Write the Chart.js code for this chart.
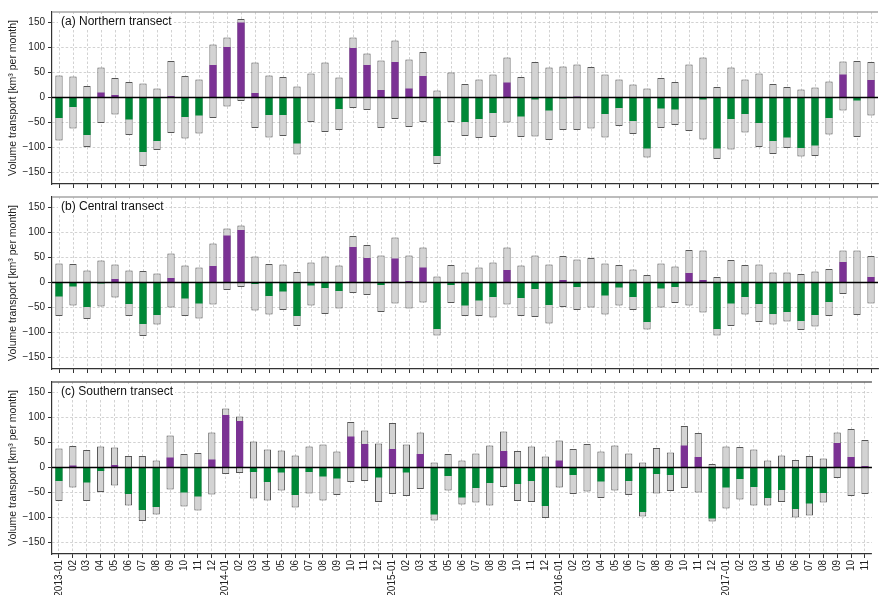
<!DOCTYPE html>
<html>
<head>
<meta charset="utf-8">
<script src="https://cdn.jsdelivr.net/npm/chart.js@4.4.1/dist/chart.umd.min.js"></script>
<style>
  html, body { margin: 0; padding: 0; background: #fff; }
  #wrap { position: relative; width: 879px; height: 595px; }
  #wrap canvas { position: absolute; left: 0; top: 0; }
</style>
</head>
<body>
<div id="wrap">
  <canvas id="panelA" width="879" height="595"></canvas>
  <canvas id="panelB" width="879" height="595"></canvas>
  <canvas id="panelC" width="879" height="595"></canvas>
</div>
<script>
// Monthly tick labels, 2013-01 to 2017-11
const monthLabels = [
  '2013-01','02','03','04','05','06','07','08','09','10','11','12',
  '2014-01','02','03','04','05','06','07','08','09','10','11','12',
  '2015-01','02','03','04','05','06','07','08','09','10','11','12',
  '2016-01','02','03','04','05','06','07','08','09','10','11','12',
  '2017-01','02','03','04','05','06','07','08','09','10','11'
];
const yTickValues = [-150, -100, -50, 0, 50, 100, 150];

// (a) Northern transect: positive / negative transport and net (km3 per month)
const northPos = [44,42,23,60,39,31,28,18,73,43,36,106, 120,157,70,44,41,22,48,70,40,120,88,74,
                  114,76,91,14,50,27,36,46,80,41,71,60, 62,66,61,46,36,26,18,39,31,66,80,21,
                  60,36,48,27,21,16,20,32,72,73,71];
const northNeg = [-86,-62,-99,-51,-34,-75,-137,-105,-71,-82,-72,-41, -18,-7,-61,-80,-77,-114,-49,-69,-65,-21,-25,-61,
                  -43,-59,-49,-133,-49,-77,-81,-79,-50,-79,-78,-85, -65,-65,-62,-80,-57,-73,-120,-61,-55,-67,-84,-123,
                  -104,-70,-99,-113,-101,-118,-117,-74,-26,-79,-36];
const northNet = [-41,-19,-75,10,5,-44,-109,-87,3,-39,-36,65, 101,150,9,-35,-35,-92,-1,1,-23,99,65,15,
                  71,18,43,-117,1,-49,-43,-31,30,-38,-4,-26, -2,2,0,-33,-21,-47,-102,-22,-24,0,-4,-102,
                  -43,-33,-51,-87,-80,-101,-96,-41,46,-6,35];

// (b) Central transect
const centralPos = [38,37,24,44,36,24,23,18,58,34,30,78, 108,114,52,37,36,21,40,52,34,93,75,54,
                    90,54,70,12,35,20,30,40,70,34,54,36, 53,46,49,38,35,26,15,38,32,65,64,11,
                    45,35,36,20,20,17,22,27,64,64,53];
const centralNeg = [-67,-46,-73,-48,-30,-67,-107,-84,-50,-67,-72,-44, -15,-9,-56,-64,-55,-87,-46,-63,-52,-21,-25,-59,
                    -42,-52,-40,-106,-41,-67,-67,-70,-44,-67,-69,-82, -49,-55,-50,-64,-46,-55,-94,-50,-41,-46,-60,-106,
                    -87,-64,-79,-84,-78,-95,-88,-67,-23,-65,-42];
const centralNet = [-28,-8,-49,-2,7,-43,-83,-65,9,-32,-42,33, 94,105,-3,-27,-18,-67,-6,-11,-17,71,49,-5,
                    48,3,30,-93,-5,-46,-36,-29,25,-31,-13,-45, 5,-9,0,-26,-10,-29,-79,-12,-9,19,5,-93,
                    -42,-29,-43,-63,-59,-77,-65,-39,41,0,11];

// (c) Southern transect
const southPos = [38,43,35,42,40,23,23,14,64,27,29,70, 118,102,52,36,34,24,42,46,32,91,74,48,
                  89,46,70,10,27,14,28,44,72,33,42,22, 54,37,47,32,44,28,10,39,30,83,69,7,
                  42,41,36,14,24,15,23,18,70,77,55];
const southNeg = [-67,-40,-67,-49,-36,-76,-107,-94,-44,-78,-86,-54, -13,-11,-62,-66,-46,-80,-52,-66,-55,-29,-27,-69,
                  -53,-57,-43,-106,-46,-74,-70,-76,-39,-67,-69,-101, -40,-53,-48,-61,-46,-55,-98,-52,-47,-41,-50,-108,
                  -82,-64,-76,-76,-69,-100,-96,-70,-21,-57,-53];
const southNet = [-27,4,-30,-7,5,-53,-85,-79,20,-50,-58,16, 105,93,-9,-29,-10,-55,-9,-18,-22,62,47,-20,
                  37,-10,27,-94,-17,-60,-41,-31,33,-33,-27,-77, 14,-15,0,-28,0,-27,-89,-13,-15,44,21,-102,
                  -40,-23,-39,-61,-45,-83,-72,-51,49,21,3];

const FONT = '"Liberation Sans", Arial, Helvetica, sans-serif';
const NET_POS = '#7b3294';
const NET_NEG = '#008837';
const RANGE_FILL = '#d3d3d3';
const RANGE_EDGE = '#555555';
const GRID = '#c6c6c6';
const AXIS = '#333333';

// Zero line, top frame line and the panel caption
const panelDecor = {
  id: 'panelDecor',
  afterDatasetsDraw(chart, args, opts) {
    const { ctx, chartArea: a, scales: { y } } = chart;
    const y0 = y.getPixelForValue(0);
    ctx.save();
    ctx.strokeStyle = '#000';
    ctx.lineWidth = 1.6;
    ctx.beginPath();
    ctx.moveTo(a.left, y0);
    ctx.lineTo(a.right, y0);
    ctx.stroke();

    ctx.strokeStyle = opts.frameColor;
    ctx.lineWidth = 1.5;
    ctx.beginPath();
    ctx.moveTo(a.left, a.top);
    ctx.lineTo(a.right, a.top);
    ctx.stroke();

    ctx.font = '12px ' + FONT;
    const w = ctx.measureText(opts.caption).width;
    ctx.fillStyle = '#fff';
    ctx.fillRect(a.left + 6, a.top + 2, w + 5, 15);
    ctx.fillStyle = '#111';
    ctx.textBaseline = 'middle';
    ctx.textAlign = 'left';
    ctx.fillText(opts.caption, a.left + 9, a.top + 9.5);
    ctx.restore();
  }
};

function drawPanel(id, caption, pos, neg, net, layout) {
  const ranges = pos.map((p, i) => [neg[i], p]);
  new Chart(document.getElementById(id), {
    type: 'bar',
    data: {
      labels: monthLabels,
      datasets: [
        {
          label: 'net',
          data: net,
          backgroundColor: net.map(v => (v >= 0 ? NET_POS : NET_NEG)),
          borderWidth: 0,
          grouped: false,
          order: 0,
          barPercentage: 0.52,
          categoryPercentage: 1
        },
        {
          label: 'range',
          data: ranges,
          backgroundColor: RANGE_FILL,
          borderColor: RANGE_EDGE,
          borderWidth: 1,
          borderSkipped: false,
          grouped: false,
          order: 1,
          barPercentage: 0.52,
          categoryPercentage: 1
        }
      ]
    },
    options: {
      responsive: false,
      animation: false,
      events: [],
      layout: { padding: { top: layout.top, bottom: layout.bottom, left: 0, right: 1 } },
      plugins: {
        legend: { display: false },
        tooltip: { enabled: false },
        panelDecor: { caption: caption, frameColor: layout.frame }
      },
      scales: {
        x: {
          type: 'category',
          offset: true,
          grid: { offset: false, color: GRID, lineWidth: 0.8, tickColor: AXIS, tickLength: 4, tickWidth: 1, drawTicks: true },
          border: { color: AXIS, width: 1.2, dash: [2.5, 2] },
          ticks: {
            display: layout.showLabels,
            autoSkip: false,
            minRotation: 90,
            maxRotation: 90,
            padding: 2,
            color: '#222',
            font: { size: 10, family: FONT }
          },
          afterFit: s => { s.height = layout.xHeight; }
        },
        y: {
          min: -173,
          max: 171,
          afterBuildTicks: s => { s.ticks = yTickValues.map(v => ({ value: v })); },
          afterFit: s => { s.width = 52; },
          grid: { color: GRID, lineWidth: 0.8, tickColor: AXIS, tickLength: 4, tickWidth: 1 },
          border: { color: AXIS, width: 1.2, dash: [2.5, 2] },
          ticks: {
            color: '#222',
            padding: 3,
            font: { size: 10, family: FONT },
            callback: v => (v < 0 ? '\u2212' + Math.abs(v) : String(v))
          },
          title: {
            display: true,
            text: 'Volume transport [km\u00b3 per month]',
            color: '#222',
            font: { size: 10.5, family: FONT },
            padding: { top: 7, bottom: 0 }
          }
        }
      }
    },
    plugins: [panelDecor]
  });
}

drawPanel('panelA', '(a) Northern transect', northPos, northNeg, northNet,
  { top: 12, bottom: 405, xHeight: 6, showLabels: false, frame: '#a6a6a6' });
drawPanel('panelB', '(b) Central transect', centralPos, centralNeg, centralNet,
  { top: 197, bottom: 220, xHeight: 6, showLabels: false, frame: '#a6a6a6' });
drawPanel('panelC', '(c) Southern transect', southPos, southNeg, southNet,
  { top: 382, bottom: 0, xHeight: 41, showLabels: true, frame: '#666666' });
</script>
</body>
</html>
